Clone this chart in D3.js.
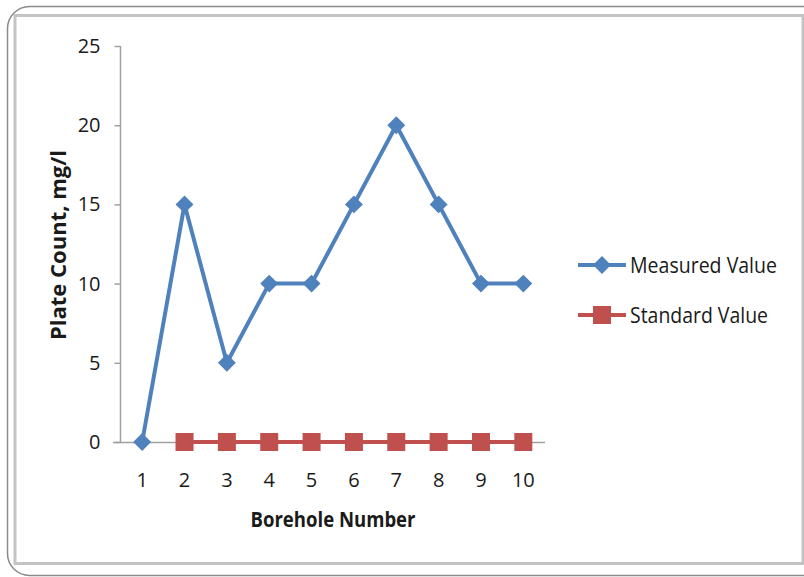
<!DOCTYPE html>
<html>
<head>
<meta charset="utf-8">
<script src="https://cdn.jsdelivr.net/npm/d3@7"></script>
<style>
  html, body { margin: 0; padding: 0; background: #fff; }
  svg { display: block; }
  text { font-family: "Open Sans", "Noto Sans", sans-serif; fill: #1a1a1a; }
</style>
</head>
<body>
<svg id="chart" width="804" height="577"></svg>
<script>
// Borehole plate count data
const boreholes = [1, 2, 3, 4, 5, 6, 7, 8, 9, 10];
const measuredValues = [0, 15, 5, 10, 10, 15, 20, 15, 10, 10];
const standardValues = [null, 0, 0, 0, 0, 0, 0, 0, 0, 0];
const yTicks = [0, 5, 10, 15, 20, 25];
const seriesNames = ["Measured Value", "Standard Value"];

const blue = "#4F81BD";
const red = "#C0504D";
const axisGray = "#a0a0a0";

const svg = d3.select("#chart");

// Outer rounded frame and inner plot frame
svg.append("rect")
  .attr("x", 7.5).attr("y", 6.5).attr("width", 820).attr("height", 569)
  .attr("rx", 22).attr("fill", "none").attr("stroke", "#8a8a8a").attr("stroke-width", 1.5);
svg.append("rect")
  .attr("x", 15).attr("y", 15.5).attr("width", 788).attr("height", 548)
  .attr("fill", "#fff").attr("stroke", "#c4c4c4").attr("stroke-width", 3);

const x = d3.scaleBand().domain(boreholes).range([121, 544.5]);
const y = d3.scaleLinear().domain([0, 25]).range([442, 46]);
const cx = d => x(d) + x.bandwidth() / 2;

// Y axis
const yAxis = svg.append("g").attr("transform", "translate(120.5,0)")
  .call(d3.axisLeft(y).tickValues(yTicks).tickSize(6).tickPadding(14).tickFormat(d3.format("d")));
yAxis.select(".domain").attr("stroke", axisGray).attr("stroke-width", 1.5).attr("d", "M0,46V442");
yAxis.selectAll(".tick line").attr("stroke", axisGray).attr("stroke-width", 1.5);
yAxis.selectAll(".tick text").attr("font-size", 20).attr("fill", "#1a1a1a")
  .attr("font-family", "Open Sans, Noto Sans, sans-serif");

// X axis
const xAxis = svg.append("g").attr("transform", "translate(0,442.5)")
  .call(d3.axisBottom(x).tickSize(0).tickPadding(30));
xAxis.select(".domain").attr("stroke", axisGray).attr("stroke-width", 1.5).attr("d", "M113,0H545");
xAxis.selectAll(".tick text").attr("font-size", 20).attr("fill", "#1a1a1a")
  .attr("font-family", "Open Sans, Noto Sans, sans-serif");

// Axis titles
svg.append("text").attr("x", 333).attr("y", 527).attr("text-anchor", "middle")
  .attr("font-size", 22).attr("font-weight", "bold")
  .attr("textLength", 165).attr("lengthAdjust", "spacingAndGlyphs").text("Borehole Number");
svg.append("text").attr("transform", "translate(66,245) rotate(-90)").attr("text-anchor", "middle")
  .attr("font-size", 22).attr("font-weight", "bold")
  .attr("textLength", 190).attr("lengthAdjust", "spacingAndGlyphs").text("Plate Count, mg/l");

const line = d3.line().defined(d => d.v !== null).x(d => cx(d.b)).y(d => y(d.v));
const measured = boreholes.map((b, i) => ({ b, v: measuredValues[i] }));
const standard = boreholes.map((b, i) => ({ b, v: standardValues[i] }));

const diamondPath = d3.symbol().type(d3.symbolSquare).size(160);

// Standard series
svg.append("path").datum(standard).attr("d", line)
  .attr("fill", "none").attr("stroke", red).attr("stroke-width", 4);
svg.selectAll(".std").data(standard.filter(d => d.v !== null)).join("rect")
  .attr("class", "std")
  .attr("x", d => cx(d.b) - 9).attr("y", d => y(d.v) - 9)
  .attr("width", 18).attr("height", 18).attr("fill", red);

// Measured series
svg.append("path").datum(measured).attr("d", line)
  .attr("fill", "none").attr("stroke", blue).attr("stroke-width", 4).attr("stroke-linejoin", "round");
svg.selectAll(".meas").data(measured).join("path")
  .attr("class", "meas")
  .attr("d", diamondPath)
  .attr("transform", d => `translate(${cx(d.b)},${y(d.v)}) rotate(45)`)
  .attr("fill", blue);

// Legend
const legend = svg.append("g");
const legendRows = [
  { name: seriesNames[0], color: blue, marker: "diamond", yy: 265, len: 147 },
  { name: seriesNames[1], color: red, marker: "square", yy: 315, len: 138 }
];
legendRows.forEach(r => {
  legend.append("line").attr("x1", 578).attr("x2", 626).attr("y1", r.yy).attr("y2", r.yy)
    .attr("stroke", r.color).attr("stroke-width", 4);
  if (r.marker === "diamond") {
    legend.append("path").attr("d", diamondPath)
      .attr("transform", `translate(602,${r.yy}) rotate(45)`).attr("fill", r.color);
  } else {
    legend.append("rect").attr("x", 593).attr("y", r.yy - 9).attr("width", 18).attr("height", 18)
      .attr("fill", r.color);
  }
  legend.append("text").attr("x", 630).attr("y", r.yy + 8).attr("font-size", 21)
    .attr("textLength", r.len).attr("lengthAdjust", "spacingAndGlyphs").text(r.name);
});
</script>
</body>
</html>
